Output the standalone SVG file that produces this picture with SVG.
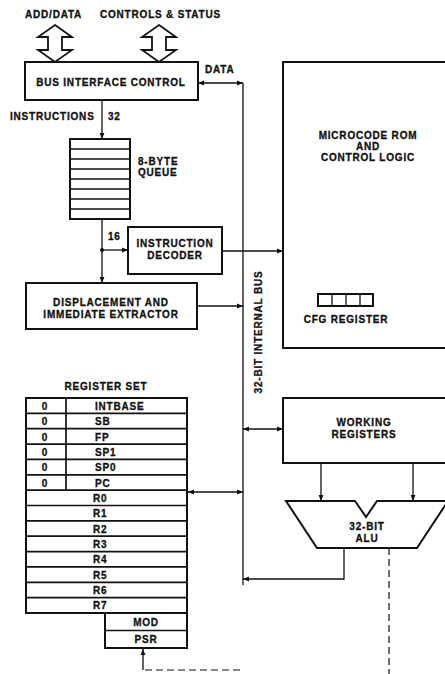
<svg xmlns="http://www.w3.org/2000/svg" width="445" height="674" viewBox="0 0 445 674">
<style>
.t{font-family:"Liberation Sans",Arial,sans-serif;font-weight:bold;font-size:10px;letter-spacing:0.8px;fill:#111;stroke:#111;stroke-width:0.3}
.m{text-anchor:middle}
.box{fill:none;stroke:#111;stroke-width:2}
.ln{fill:none;stroke:#111;stroke-width:1.3}
.row{fill:none;stroke:#111;stroke-width:1.7}
.dash{fill:none;stroke:#111;stroke-width:1.2;stroke-dasharray:7 4}
.hollow{fill:#fff;stroke:#111;stroke-width:1.8;stroke-linejoin:miter}
</style>
<defs>
<marker id="ah" viewBox="0 0 10 10" refX="10" refY="5" markerWidth="8" markerHeight="6" markerUnits="userSpaceOnUse" orient="auto-start-reverse">
<path d="M0,1 L10,5 L0,9 Z" fill="#111"/>
</marker>
</defs>
<rect width="445" height="674" fill="#fff"/>

<g id="labels-top">
<text class="t" x="25" y="18">ADD/DATA</text>
<text class="t" x="100" y="18">CONTROLS &amp; STATUS</text>
</g>

<g id="bus-arrows">
<polygon class="hollow" points="55,25 72,37 62,37 62,50 72,50 55,62 38,50 48,50 48,37 38,37"/>
<polygon class="hollow" points="159,25 176,37 166,37 166,50 176,50 159,62 142,50 152,50 152,37 142,37"/>
</g>

<g id="bus-interface">
<rect class="box" x="25" y="62" width="173" height="38"/>
<text class="t m" x="111" y="86">BUS INTERFACE CONTROL</text>
</g>

<g id="queue">
<rect class="box" x="70" y="139" width="60" height="80"/>
<path class="row" d="M70,149H130M70,159H130M70,169H130M70,179H130M70,189H130M70,199H130M70,209H130"/>
<text class="t" x="138" y="165">8-BYTE</text>
<text class="t" x="138" y="176">QUEUE</text>
</g>

<g id="instruction-decoder">
<rect class="box" x="128" y="227" width="94" height="47"/>
<text class="t m" x="175" y="247">INSTRUCTION</text>
<text class="t m" x="175" y="259">DECODER</text>
</g>

<g id="displacement">
<rect class="box" x="26" y="283" width="171" height="46"/>
<text class="t m" x="111" y="306">DISPLACEMENT AND</text>
<text class="t m" x="111" y="318">IMMEDIATE EXTRACTOR</text>
</g>

<g id="microcode">
<path class="box" d="M445,62H283V348H445"/>
<text class="t m" x="368" y="139">MICROCODE ROM</text>
<text class="t m" x="368" y="150">AND</text>
<text class="t m" x="368" y="161">CONTROL LOGIC</text>
<rect class="box" x="318" y="294" width="55" height="12"/>
<path class="ln" d="M332,294V306M346,294V306M360,294V306" stroke-width="2"/>
<text class="t m" x="346" y="323">CFG REGISTER</text>
</g>

<g id="working-registers">
<path class="box" d="M445,398H283V463H445"/>
<text class="t m" x="364" y="426">WORKING</text>
<text class="t m" x="364" y="438">REGISTERS</text>
</g>

<g id="alu">
<polygon class="box" points="286,501 355,501 366,517 377,501 448,501 417,548 317,548"/>
<text class="t m" x="367" y="530">32-BIT</text>
<text class="t m" x="367" y="542">ALU</text>
</g>

<g id="register-set">
<text class="t m" x="106" y="390">REGISTER SET</text>
<rect class="box" x="26" y="398" width="161" height="215"/>
<path class="row" d="M26,413.4H187M26,428.7H187M26,444.1H187M26,459.4H187M26,474.8H187M26,490.1H187M26,505.5H187M26,520.9H187M26,536.2H187M26,551.6H187M26,566.9H187M26,582.3H187M26,597.6H187"/>
<path class="row" d="M66,398V490.1"/>
<text class="t m" x="45" y="410">0</text>
<text class="t m" x="45" y="425">0</text>
<text class="t m" x="45" y="441">0</text>
<text class="t m" x="45" y="456">0</text>
<text class="t m" x="45" y="471">0</text>
<text class="t m" x="45" y="487">0</text>
<text class="t" x="95" y="410">INTBASE</text>
<text class="t" x="95" y="425">SB</text>
<text class="t" x="95" y="441">FP</text>
<text class="t" x="95" y="456">SP1</text>
<text class="t" x="95" y="471">SP0</text>
<text class="t" x="95" y="487">PC</text>
<text class="t" x="93" y="502">R0</text>
<text class="t" x="93" y="517">R1</text>
<text class="t" x="93" y="533">R2</text>
<text class="t" x="93" y="548">R3</text>
<text class="t" x="93" y="563">R4</text>
<text class="t" x="93" y="579">R5</text>
<text class="t" x="93" y="594">R6</text>
<text class="t" x="93" y="609">R7</text>
<rect class="box" x="105" y="613" width="82" height="35"/>
<path class="row" d="M105,630.5H187"/>
<text class="t m" x="146" y="626">MOD</text>
<text class="t m" x="146" y="643">PSR</text>
</g>

<g id="bus-label">
<text class="t m" transform="translate(262,332) rotate(-90)">32-BIT INTERNAL BUS</text>
<text class="t" x="205" y="73">DATA</text>
<text class="t" x="10" y="120">INSTRUCTIONS</text>
<text class="t" x="108" y="120">32</text>
<text class="t" x="108" y="240">16</text>
</g>

<g id="connectors">
<path class="ln" d="M243,83V585" stroke-width="1.5"/>
<path class="ln" d="M198,83H243" marker-start="url(#ah)" marker-end="url(#ah)"/>
<path class="ln" d="M102,100V139" marker-end="url(#ah)"/>
<path class="ln" d="M102,219V283" marker-end="url(#ah)"/>
<circle cx="102" cy="250" r="2" fill="#111"/>
<path class="ln" d="M102,250H128" marker-end="url(#ah)"/>
<path class="ln" d="M222,251H283" marker-end="url(#ah)"/>
<path class="ln" d="M197,306H243" marker-end="url(#ah)"/>
<path class="ln" d="M243,429H283" marker-start="url(#ah)" marker-end="url(#ah)"/>
<path class="ln" d="M188,492H243" marker-start="url(#ah)" marker-end="url(#ah)"/>
<path class="ln" d="M321,463V501" marker-end="url(#ah)"/>
<path class="ln" d="M413,463V501" marker-end="url(#ah)"/>
<path class="ln" d="M344,548V579H243" marker-end="url(#ah)"/>
<path class="dash" d="M389,548V674"/>
<path class="dash" d="M240,670H143"/>
<path class="ln" d="M143,670V649" marker-end="url(#ah)"/>
</g>
</svg>
